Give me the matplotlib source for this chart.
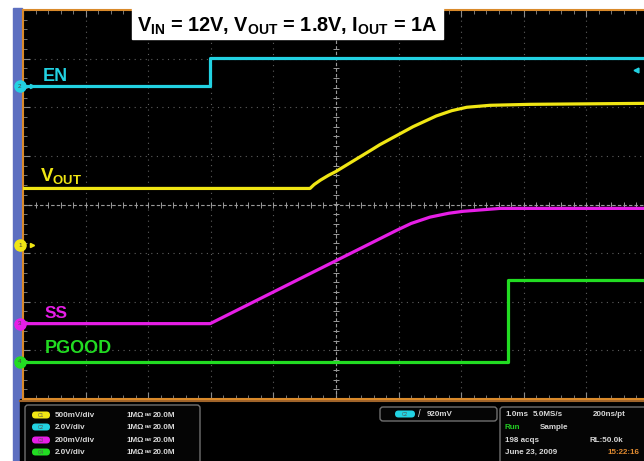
import matplotlib
matplotlib.use('Agg')
import matplotlib.pyplot as plt
from matplotlib.patches import Rectangle, FancyBboxPatch
import numpy as np

plt.rcParams['font.family'] = ['Liberation Sans', 'DejaVu Sans']
plt.rcParams['mathtext.fontset'] = 'custom'
plt.rcParams['mathtext.rm'] = 'Liberation Sans'
plt.rcParams['mathtext.bf'] = 'Liberation Sans:bold'

# waveforms: time in ms (1 ms/div, trigger at 0), level in screen divisions
en_t = [-5.0, -2.01, -2.01, 4.92]
en_v = [2.43, 2.43, 3.02, 3.02]
vout_t = [-5.0, -0.415, -0.35, -0.25, -0.12, 0.0, 0.575, 0.70, 1.23, 1.60, 1.85, 2.09, 2.46, 3.10, 4.92]
vout_v = [0.33, 0.33, 0.41, 0.50, 0.60, 0.68, 1.13, 1.23, 1.60, 1.82, 1.93, 2.00, 2.04, 2.06, 2.08]
ss_t = [-5.0, -2.01, 0.97, 1.20, 1.50, 1.80, 2.03, 2.62, 4.92]
ss_v = [-2.45, -2.45, -0.53, -0.39, -0.26, -0.18, -0.14, -0.08, -0.08]
pg_t = [-5.0, 2.75, 2.75, 4.92]
pg_v = [-3.23, -3.23, -1.56, -1.56]

# channel settings (ch1..ch4)
ch_names = ['C1', 'C2', 'C3', 'C4']
ch_gnd = [-0.84, 2.43, -2.45, -3.23]
ch_scale = ['500mV/div', '2.0V/div', '200mV/div', '2.0V/div']
trig_level = 2.76
trig_text = '920mV'

c_yel = '#f0e614'
c_cyan = '#22d2e2'
c_mag = '#e61ee6'
c_grn = '#22dc22'
ch_colors = [c_yel, c_cyan, c_mag, c_grn]
orange = '#d98a2b'

W, H = 644, 461
fig = plt.figure(figsize=(6.44, 4.61), dpi=100, facecolor='white')

# background pieces (pixel coordinates)
bg = fig.add_axes([0, 0, 1, 1], zorder=0)
bg.set_xlim(0, W)
bg.set_ylim(H, 0)
bg.axis('off')
bg.add_patch(Rectangle((13, 8), 9, H - 8, color='#5d6fc0'))
bg.add_patch(Rectangle((20, 399), W - 20, H - 399, color='black'))
bg.plot([20, W], [400.5, 400.5], color='#a0642a', lw=1.5)

# graticule
ax = fig.add_axes([23 / W, 62 / H, 621 / W, 389 / H], zorder=1)
ax.set_facecolor('black')
ax.set_xlim(-5, 4.92)
ax.set_ylim(-4, 4)
ax.set_xticks(np.arange(-5, 5))
ax.set_yticks(np.arange(-4, 5))
ax.set_xticks(np.arange(-5, 4.95, 0.2), minor=True)
ax.set_yticks(np.arange(-4, 4.01, 0.2), minor=True)
ax.tick_params(which='both', direction='in', top=True, right=False, labelleft=False,
               labelbottom=False, color='#8a8a8a')
ax.tick_params(which='major', length=5, width=0.8)
ax.tick_params(which='minor', length=3, width=0.6)
ax.grid(True, which='major', color='#5e5e5e', linestyle=(0, (1, 4)), lw=0.8)
for s in ['left', 'top', 'bottom']:
    ax.spines[s].set_color(orange)
    ax.spines[s].set_linewidth(1.5)
ax.spines['right'].set_visible(False)

ax.axhline(0, color='#9a9a9a', lw=0.8, ls=(0, (3, 2)))
ax.axvline(0, color='#9a9a9a', lw=0.8, ls=(0, (3, 2)))
mx = np.arange(-5, 4.95, 0.2)
my = np.arange(-4, 4.01, 0.2)
ax.plot(mx, np.zeros_like(mx), ls='none', marker='|', ms=4, mew=0.7, color='#9a9a9a')
ax.plot(np.zeros_like(my), my, ls='none', marker='_', ms=4, mew=0.7, color='#9a9a9a')

# traces
ax.plot(en_t, en_v, color=c_cyan, lw=2.3, zorder=4)
ax.plot(vout_t, vout_v, color=c_yel, lw=2.3, zorder=4)
ax.plot(ss_t, ss_v, color=c_mag, lw=2.3, zorder=4)
ax.plot(pg_t, pg_v, color=c_grn, lw=2.3, zorder=4)

# ground markers on the left edge
for i, (lvl, col) in enumerate(zip(ch_gnd, ch_colors)):
    ax.plot(-5.05, lvl, 'o', ms=8, color=col, clip_on=False, zorder=6)
    ax.text(-5.05, lvl, str(i + 1), fontsize=4.5, color='#444444', ha='center',
            va='center', clip_on=False, zorder=7)
    if i < 2:
        ax.plot(-4.86, lvl, '>', ms=3, color=col, clip_on=False, zorder=6)
ax.plot(4.8, trig_level, '<', ms=3.5, color=c_cyan, zorder=6)

# trace labels
ax.text(-4.68, 2.55, 'EN', color=c_cyan, fontsize=13, fontweight='bold', va='baseline')
ax.text(-4.73, 0.47, r'$\mathbf{V}_{\mathbf{OUT}}$', color=c_yel, fontsize=13.5, va='baseline')
ax.text(-4.65, -2.33, 'SS', color=c_mag, fontsize=12.5, fontweight='bold', va='baseline')
ax.text(-4.65, -3.05, 'PGOOD', color=c_grn, fontsize=13, fontweight='bold', va='baseline')

# overlay: title box and status panel
ov = fig.add_axes([0, 0, 1, 1], zorder=10)
ov.set_xlim(0, W)
ov.set_ylim(H, 0)
ov.axis('off')
ov.patch.set_alpha(0)
ov.add_patch(Rectangle((132, 8), 311, 31, color='white'))
ov.text(287, 32, r'$\mathbf{V}_{\mathbf{IN}}$ = 12V, $\mathbf{V}_{\mathbf{OUT}}$ = 1.8V, '
        r'$\mathbf{I}_{\mathbf{OUT}}$ = 1A', fontsize=14.3, fontweight='bold',
        color='black', ha='center', va='baseline')

box_kw = dict(boxstyle='round,pad=0,rounding_size=3', fc='#050505', ec='#707070', lw=1)
ov.add_patch(FancyBboxPatch((25, 405), 175, 62, **box_kw))
ov.add_patch(FancyBboxPatch((380, 407), 117, 14, **box_kw))
ov.add_patch(FancyBboxPatch((500, 407), 150, 62, **box_kw))

fs = 5.8
txt = dict(fontsize=fs, color='#d8d8d8', fontweight='bold', va='center')
rows = [415, 427, 440, 452]
for y, name, scale, col in zip(rows, ch_names, ch_scale, ch_colors):
    ov.add_patch(FancyBboxPatch((32, y - 3.5), 18, 7,
                                boxstyle='round,pad=0,rounding_size=3.5', fc=col, ec='none'))
    ov.text(41, y, name, fontsize=3.5, color='#555555', ha='center', va='center')
    ov.text(55, y, scale, **txt)
    ov.text(126, y, '1M\u03a9', **txt)
    ov.text(145, y, 'BW', fontsize=3.2, color='#d8d8d8', fontweight='bold', va='center')
    ov.text(153, y, '20.0M', **txt)

ov.add_patch(FancyBboxPatch((395, 410.5), 20, 7,
                            boxstyle='round,pad=0,rounding_size=3.5', fc=c_cyan, ec='none'))
ov.text(405, 414, 'C2', fontsize=3.5, color='#555555', ha='center', va='center')
ov.text(418, 414, '/', fontsize=7, color='#d8d8d8', va='center')
ov.text(427, 414, trig_text, **txt)

ov.text(505, 414, '1.0ms', **txt)
ov.text(533, 414, '5.0MS/s', **txt)
ov.text(593, 414, '200ns/pt', **txt)
ov.text(505, 427, 'Run', fontsize=fs, color='#22cc22', fontweight='bold', va='center')
ov.text(540, 427, 'Sample', **txt)
ov.text(505, 440, '198 acqs', **txt)
ov.text(590, 440, 'RL:50.0k', **txt)
ov.text(505, 452, 'June 23, 2009', **txt)
ov.text(607, 452, '15:22:16', fontsize=fs, color='#e08a30', fontweight='bold', va='center')

fig.savefig('out.png', dpi=100, facecolor='white')
